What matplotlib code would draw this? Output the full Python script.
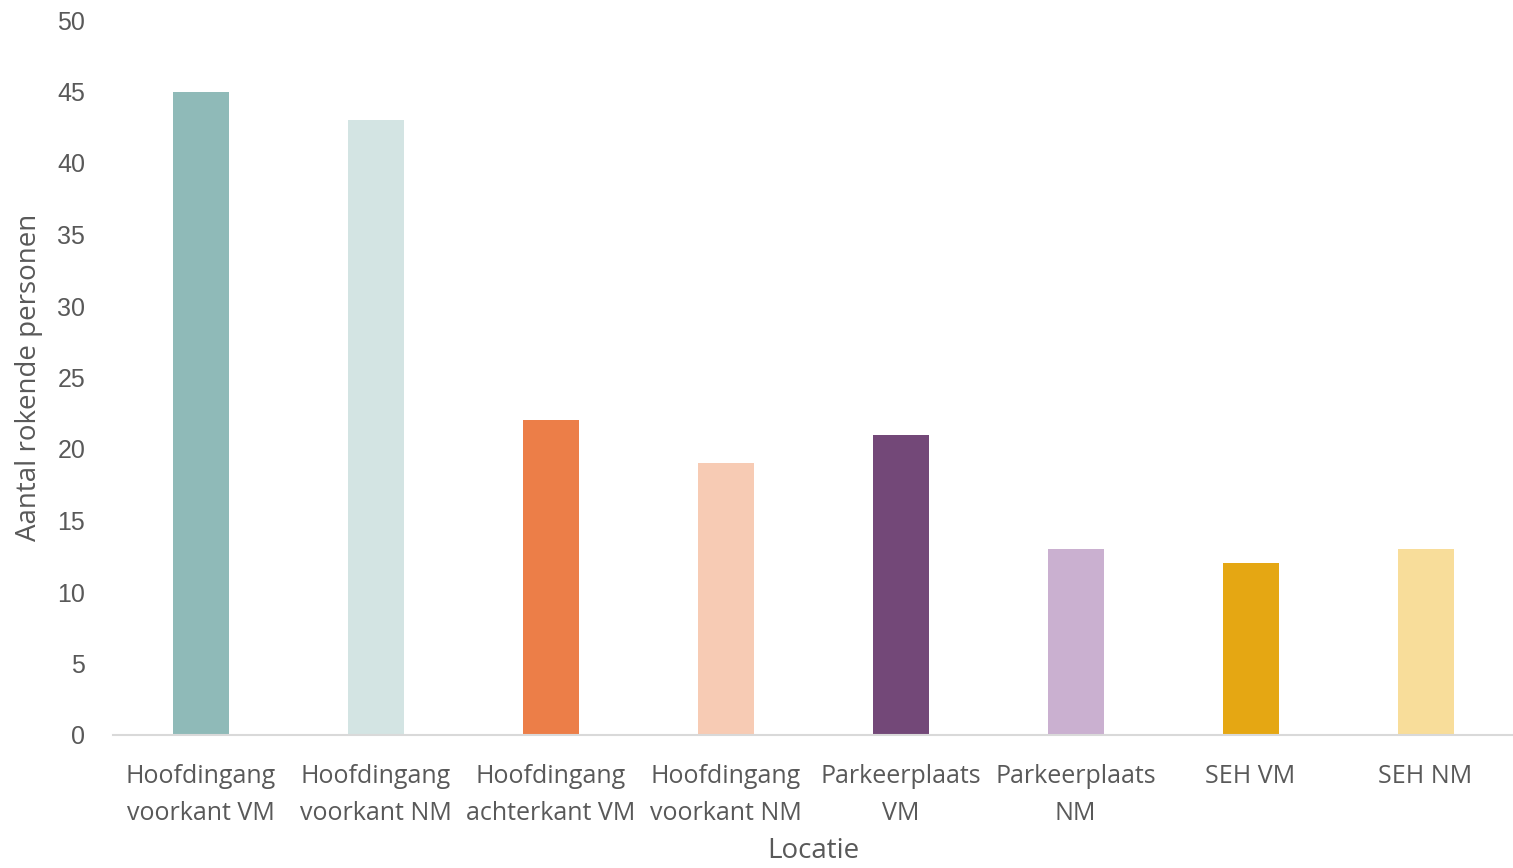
import matplotlib.pyplot as plt

locaties = ["Hoofdingang\nvoorkant VM", "Hoofdingang\nvoorkant NM", "Hoofdingang\nachterkant VM",
            "Hoofdingang\nvoorkant NM", "Parkeerplaats\nVM", "Parkeerplaats\nNM", "SEH VM", "SEH NM"]
aantal = [45, 43, 22, 19, 21, 13, 12, 13]
kleuren = ["#8FBAB8", "#D3E4E3", "#EC7E48", "#F7CBB4", "#734878", "#CAB0D0", "#E5A713", "#F8DD9A"]
yticks = [0, 5, 10, 15, 20, 25, 30, 35, 40, 45, 50]

tekst = "#595959"

fig = plt.figure(figsize=(15.13, 8.68), dpi=100)
ax = fig.add_axes([113 / 1513, 1 - 735 / 868, 1 - 113 / 1513, (735 - 20) / 868])

x = range(len(locaties))
ax.bar(x, aantal, width=0.32, color=kleuren, zorder=2)

ax.set_xlim(-0.5, len(locaties) - 0.5)
ax.set_ylim(0, 50)
ax.set_yticks(yticks)
ax.set_yticklabels([str(v) for v in yticks], family="Liberation Sans", fontsize=18, color=tekst)
ax.set_xticks(list(x))
ax.set_xticklabels(locaties, family="Open Sans", fontsize=18, color=tekst, linespacing=1.6)
ax.tick_params(axis="y", length=0, pad=20)
ax.tick_params(axis="x", length=0, pad=21)

for s in ["top", "right", "left"]:
    ax.spines[s].set_visible(False)
ax.spines["bottom"].set_color("#D9D9D9")
ax.spines["bottom"].set_linewidth(1.5)

# in het origineel valt "Locatie" net half buiten beeld; iets hoger zodat het leesbaar blijft
ax.set_xlabel("Locatie", family="Open Sans", fontsize=20, color=tekst, labelpad=8)
ax.set_ylabel("Aantal rokende personen", family="Open Sans", fontsize=20, color=tekst, labelpad=10)

fig.savefig("out.png", dpi=100)
